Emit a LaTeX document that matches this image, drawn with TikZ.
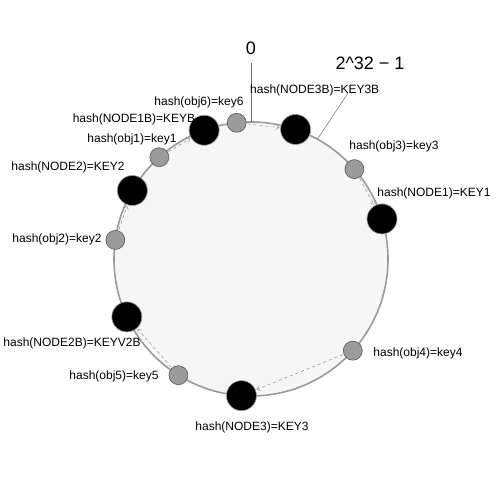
\documentclass[tikz,border=0pt]{standalone}
\usepackage{fontspec}
\setmainfont{Liberation Sans}
\usetikzlibrary{arrows.meta}
\definecolor{ringline}{HTML}{9A9A9A}
\definecolor{ringfill}{HTML}{F6F6F6}
\definecolor{objfill}{HTML}{9B9B9B}
\tikzset{
  server/.style={circle,fill=black,draw=ringline,line width=0.6pt,minimum size=30pt,inner sep=0pt},
  object/.style={circle,fill=objfill,draw=black!65,line width=0.6pt,minimum size=19pt,inner sep=0pt},
  hashtext/.style={font=\fontsize{12}{14}\selectfont,inner sep=0pt},
  bigtext/.style={font=\fontsize{18}{20}\selectfont,inner sep=0pt},
  maps/.style={draw=black!45,dashed,line width=0.5pt,-{Straight Barb[length=3pt,width=5pt]},shorten <=1pt,shorten >=1pt},
  pointer/.style={draw=black!55,line width=0.5pt}
}
\begin{document}
\begin{tikzpicture}[x=1pt,y=1pt]
  \useasboundingbox (-251,-241) rectangle (249,259);
  \coordinate (O) at (0,0);
  \draw[ringline,fill=ringfill,line width=1.6pt] (O) circle (137);
  % ends of the range
  \coordinate (top) at (90:137);
  \coordinate (max) at (61:137);
  \coordinate (maxfoot) at (97,166);
  \node[bigtext] (zero) at (0,211) {0};
  \node[bigtext] (maxval) at (119,196) {2\textasciicircum 32 − 1};
  \draw[pointer] (0,196) -- (top);
  \draw[pointer] (maxfoot) -- (max);
  % servers and objects on the ring
  \node[object] (obj6) at (96:137) {};
  \node[server] (n1b) at (110:137) {};
  \node[object] (obj1) at (132:137) {};
  \node[server] (n2) at (150:137) {};
  \node[object] (obj2) at (172:137) {};
  \node[server] (n2b) at (205:137) {};
  \node[object] (obj5) at (238:137) {};
  \node[server] (n3) at (266:137) {};
  \node[object] (obj4) at (318:137) {};
  \node[server] (n1) at (17:137) {};
  \node[object] (obj3) at (41:137) {};
  \node[server] (n3b) at (71:137) {};
  % labels
  \node[hashtext,anchor=west] at (-1,169) {hash(NODE3B)=KEY3B};
  \node[hashtext] at (-52,157) {hash(obj6)=key6};
  \node[hashtext] at (-117,140) {hash(NODE1B)=KEYB};
  \node[hashtext] at (-119,120) {hash(obj1)=key1};
  \node[hashtext] at (-183,92) {hash(NODE2)=KEY2};
  \node[hashtext] at (-194,20) {hash(obj2)=key2};
  \node[hashtext] at (143,113) {hash(obj3)=key3};
  \node[hashtext] at (183,66) {hash(NODE1)=KEY1};
  \node[hashtext] at (-179,-84) {hash(NODE2B)=KEYV2B};
  \node[hashtext] at (-137,-117) {hash(obj5)=key5};
  \node[hashtext] at (167,-94) {hash(obj4)=key4};
  \node[hashtext] at (1,-168) {hash(NODE3)=KEY3};
  % each object goes to the next server clockwise
  \draw[maps] (obj6) -- (n3b);
  \draw[maps] (obj1) -- (n1b);
  \draw[maps] (obj2) -- (n2);
  \draw[maps] (obj3) -- (n1);
  \draw[maps] (obj4) -- (n3);
  \draw[maps] (obj5) -- (n2b);
\end{tikzpicture}
\end{document}
